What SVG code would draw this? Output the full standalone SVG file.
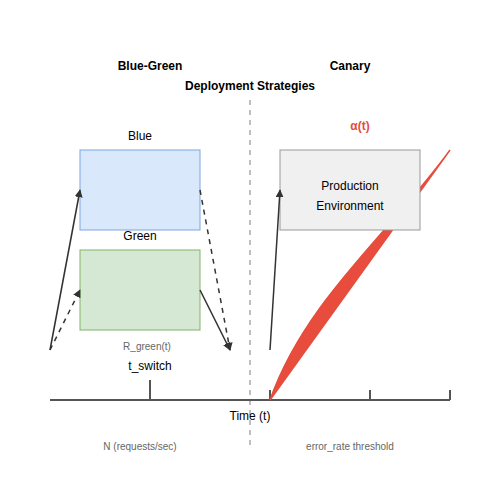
<svg xmlns="http://www.w3.org/2000/svg" width="500" height="500" viewBox="0 0 500 500">
<defs>
<marker id="arr" viewBox="0 0 10 10" refX="9" refY="5" markerWidth="8" markerHeight="8" markerUnits="userSpaceOnUse" orient="auto">
<path d="M0,0 L10,5 L0,10 Z" fill="#333"/>
</marker>
</defs>
<style>
text{font-family:"Liberation Sans",Arial,sans-serif;text-anchor:middle}
.t{font-size:12px;fill:#000}
.b{font-size:12px;font-weight:bold;fill:#000}
.s{font-size:10px;fill:#666}
.c{stroke:#333;stroke-width:1.5;fill:none}
.d{stroke-dasharray:5,5}
.ax{stroke:#555;stroke-width:2;fill:none}
</style>
<rect width="500" height="500" fill="#fff"/>
<text class="b" x="150" y="70">Blue-Green</text>
<text class="b" x="350" y="70">Canary</text>
<text class="b" x="250" y="90">Deployment Strategies</text>
<line x1="250" y1="100" x2="250" y2="445" stroke="#aaa" stroke-width="1.5" stroke-dasharray="5,5"/>
<g id="axis">
<line class="ax" x1="50" y1="400" x2="450" y2="400"/>
<line class="ax" x1="150" y1="380" x2="150" y2="400"/>
<line class="ax" x1="270" y1="390" x2="270" y2="400"/>
<line class="ax" x1="370" y1="390" x2="370" y2="400"/>
<line class="ax" x1="450" y1="390" x2="450" y2="400"/>
<text class="t" x="150" y="370">t_switch</text>
<text class="t" x="250" y="420">Time (t)</text>
<text class="s" x="140" y="450">N (requests/sec)</text>
<text class="s" x="350" y="450">error_rate threshold</text>
</g>
<g id="alpha-curve">
<path d="M270,400 C305.7,299.2 390,233.3 450,150 Z" fill="#e74c3c" stroke="#e74c3c" stroke-width="1.5"/>
<text x="360" y="130" style="font-size:12px;font-weight:bold;fill:#e74c3c">α(t)</text>
</g>
<g id="blue">
<rect x="80" y="150" width="120" height="80" fill="#dae8fc" stroke="#7ea6e0" stroke-width="1"/>
<text class="t" x="140" y="140">Blue</text>
</g>
<g id="green">
<rect x="80" y="250" width="120" height="80" fill="#d5e8d4" stroke="#82b366" stroke-width="1"/>
<text class="t" x="140" y="240">Green</text>
<text class="s" x="147" y="350">R_green(t)</text>
</g>
<g id="production">
<rect x="280" y="150" width="140" height="80" fill="#f0f0f0" stroke="#999" stroke-width="1"/>
<text class="t" x="350" y="190">Production</text>
<text class="t" x="350" y="210">Environment</text>
</g>
<g id="connectors">
<line class="c" x1="50" y1="350" x2="80" y2="190" marker-end="url(#arr)"/>
<line class="c d" x1="50" y1="350" x2="80" y2="290" marker-end="url(#arr)"/>
<line class="c d" x1="200" y1="190" x2="230" y2="350" marker-end="url(#arr)"/>
<line class="c" x1="200" y1="290" x2="230" y2="350" marker-end="url(#arr)"/>
<line class="c" x1="270" y1="350" x2="280" y2="190" marker-end="url(#arr)"/>
</g>
</svg>
